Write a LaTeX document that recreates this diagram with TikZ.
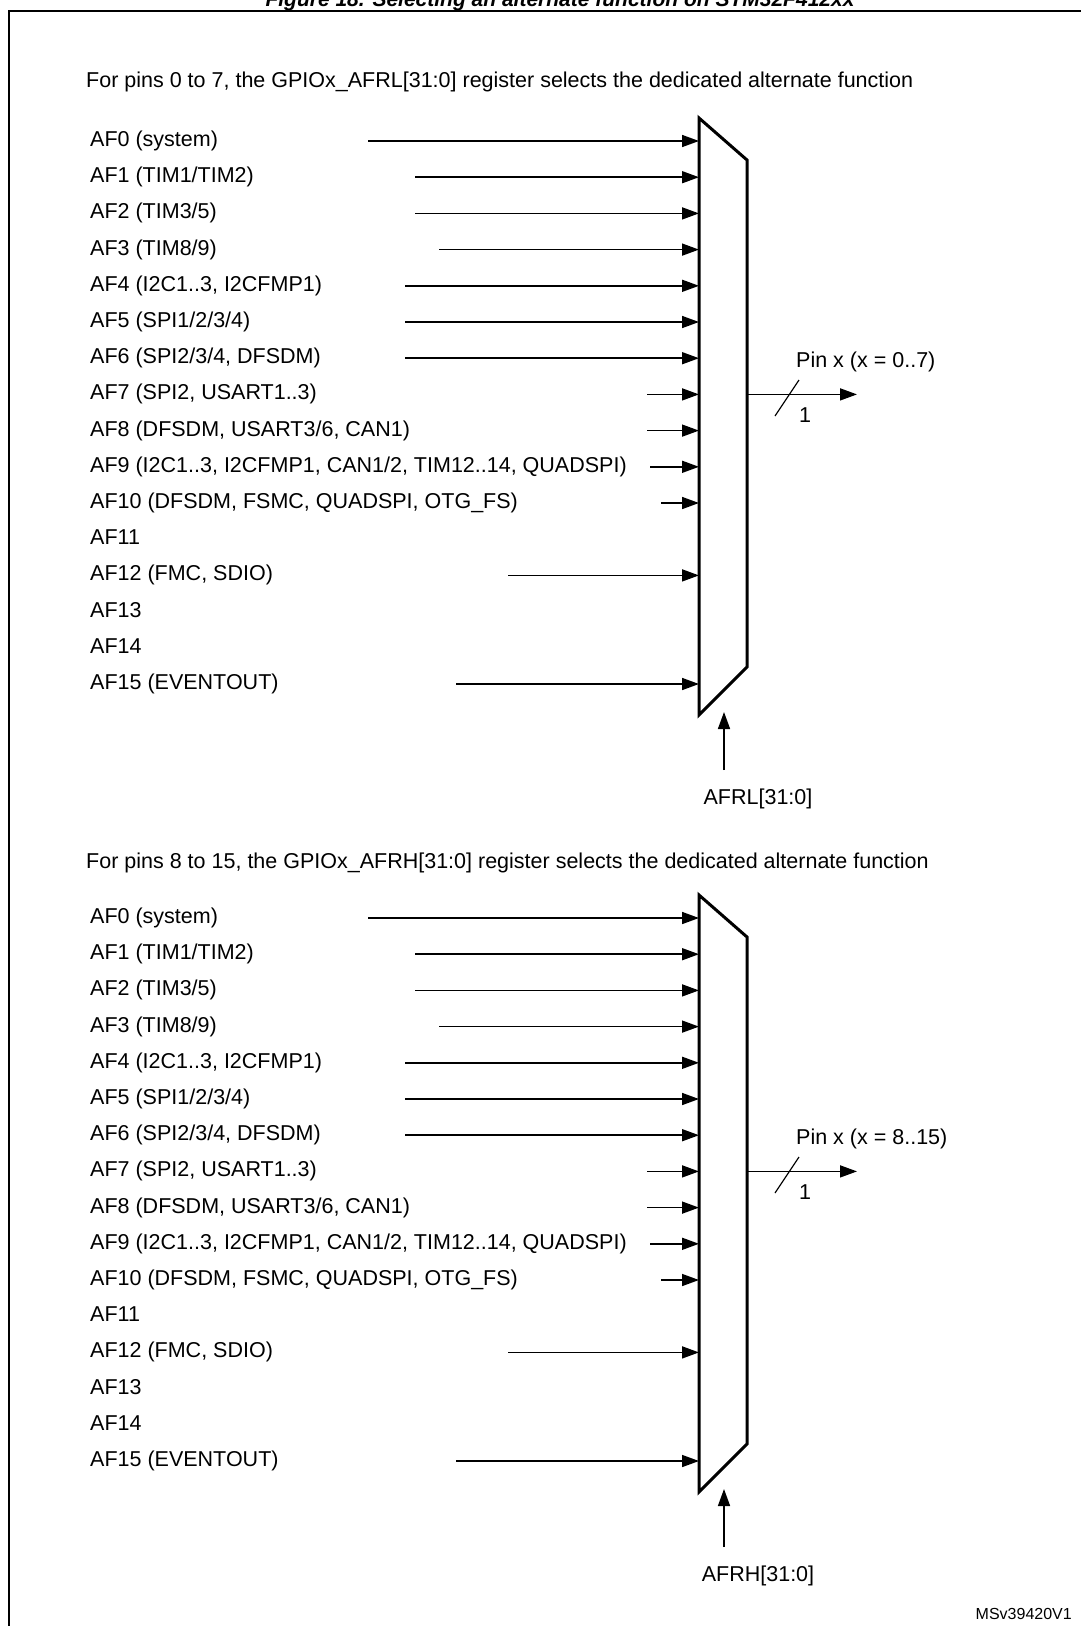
\documentclass[tikz,border=0pt]{standalone}
\usepackage{fontspec}
\setmainfont{Liberation Sans}
\usetikzlibrary{arrows.meta, positioning, calc}

\tikzset{
  lbl/.style={font=\fontsize{21.5}{26}\selectfont, inner sep=0pt, anchor=west, text height=15.4pt, text depth=4.4pt},
  sig/.style={line width=1.6pt, -{Triangle[length=17pt, width=12pt]}},
  muxbox/.style={line width=3pt, line join=miter},
}

\begin{document}
\begin{tikzpicture}[x=1pt, y=-1pt]
  \useasboundingbox (0,0) rectangle (1081,1626);
  \clip (0,0) rectangle (1081,1626);

  % Title (cut by the top edge)
  \node[font=\fontsize{21}{24}\selectfont\bfseries\itshape, inner sep=0pt, anchor=base] (title) at (560,6.5) {Figure 18. Selecting an alternate function on STM32F412xx};

  % Frame
  \draw[line width=2pt] (9,1640) -- (9,11) -- (1090,11);

  % ---------------- Pins 0 to 7 ----------------
  \node[lbl] (hdrl) at (86,82) {For pins 0 to 7, the GPIOx\_AFRL[31:0] register selects the dedicated alternate function};

  \node[lbl] (l0) at (90,141.0) {AF0 (system)};
  \node[lbl] (l1) at (90,177.2) {AF1 (TIM1/TIM2)};
  \node[lbl] (l2) at (90,213.4) {AF2 (TIM3/5)};
  \node[lbl] (l3) at (90,249.6) {AF3 (TIM8/9)};
  \node[lbl] (l4) at (90,285.8) {AF4 (I2C1..3, I2CFMP1)};
  \node[lbl] (l5) at (90,322.0) {AF5 (SPI1/2/3/4)};
  \node[lbl] (l6) at (90,358.2) {AF6 (SPI2/3/4, DFSDM)};
  \node[lbl] (l7) at (90,394.4) {AF7 (SPI2, USART1..3)};
  \node[lbl] (l8) at (90,430.6) {AF8 (DFSDM, USART3/6, CAN1)};
  \node[lbl] (l9) at (90,466.8) {AF9 (I2C1..3, I2CFMP1, CAN1/2, TIM12..14, QUADSPI)};
  \node[lbl] (l10) at (90,503.0) {AF10 (DFSDM, FSMC, QUADSPI, OTG\_FS)};
  \node[lbl] (l11) at (90,539.2) {AF11};
  \node[lbl] (l12) at (90,575.4) {AF12 (FMC, SDIO)};
  \node[lbl] (l13) at (90,611.6) {AF13};
  \node[lbl] (l14) at (90,647.8) {AF14};
  \node[lbl] (l15) at (90,684.0) {AF15 (EVENTOUT)};

  % Multiplexer
  \coordinate (muxl-nw) at (699,118);
  \coordinate (muxl-ne) at (747,160);
  \coordinate (muxl-se) at (747,667);
  \coordinate (muxl-sw) at (699,715);
  \draw[muxbox] (muxl-nw) -- (muxl-ne) -- (muxl-se) -- (muxl-sw) -- cycle;

  % Inputs
  \coordinate (sl0) at (368,141.0);
  \coordinate (sl1) at (415,177.2);
  \coordinate (sl2) at (415,213.4);
  \coordinate (sl3) at (439,249.6);
  \coordinate (sl4) at (405,285.8);
  \coordinate (sl5) at (405,322.0);
  \coordinate (sl6) at (405,358.2);
  \coordinate (sl7) at (647,394.4);
  \coordinate (sl8) at (647,430.6);
  \coordinate (sl9) at (650,466.8);
  \coordinate (sl10) at (661,503.0);
  \coordinate (sl12) at (508,575.4);
  \coordinate (sl15) at (456,684.0);
  \foreach \k in {0,1,2,3,4,5,6,7,8,9,10,12,15}
    \draw[sig] (sl\k) -- (sl\k -| muxl-nw);

  % Output
  \coordinate (outl) at (857,394.4);
  \draw[sig] (l7 -| muxl-ne) -- (outl);
  \draw[line width=1.2pt] (775,416) -- (799,380);
  \node[lbl] (pinl) at (796,362) {Pin x (x = 0..7)};
  \node[lbl, anchor=center] (wl) at (805,417) {1};

  % Select
  \coordinate (ctll) at (724,770);
  \draw[sig] (ctll) -- (724,712);
  \node[lbl, anchor=center] (afrl) at (758,799) {AFRL[31:0]};

  % ---------------- Pins 8 to 15 ----------------
  \node[lbl] (hdrh) at (86,863) {For pins 8 to 15, the GPIOx\_AFRH[31:0] register selects the dedicated alternate function};

  \node[lbl] (h0) at (90,918.0) {AF0 (system)};
  \node[lbl] (h1) at (90,954.2) {AF1 (TIM1/TIM2)};
  \node[lbl] (h2) at (90,990.4) {AF2 (TIM3/5)};
  \node[lbl] (h3) at (90,1026.6) {AF3 (TIM8/9)};
  \node[lbl] (h4) at (90,1062.8) {AF4 (I2C1..3, I2CFMP1)};
  \node[lbl] (h5) at (90,1099.0) {AF5 (SPI1/2/3/4)};
  \node[lbl] (h6) at (90,1135.2) {AF6 (SPI2/3/4, DFSDM)};
  \node[lbl] (h7) at (90,1171.4) {AF7 (SPI2, USART1..3)};
  \node[lbl] (h8) at (90,1207.6) {AF8 (DFSDM, USART3/6, CAN1)};
  \node[lbl] (h9) at (90,1243.8) {AF9 (I2C1..3, I2CFMP1, CAN1/2, TIM12..14, QUADSPI)};
  \node[lbl] (h10) at (90,1280.0) {AF10 (DFSDM, FSMC, QUADSPI, OTG\_FS)};
  \node[lbl] (h11) at (90,1316.2) {AF11};
  \node[lbl] (h12) at (90,1352.4) {AF12 (FMC, SDIO)};
  \node[lbl] (h13) at (90,1388.6) {AF13};
  \node[lbl] (h14) at (90,1424.8) {AF14};
  \node[lbl] (h15) at (90,1461.0) {AF15 (EVENTOUT)};

  % Multiplexer
  \coordinate (muxh-nw) at (699,895);
  \coordinate (muxh-ne) at (747,937);
  \coordinate (muxh-se) at (747,1444);
  \coordinate (muxh-sw) at (699,1492);
  \draw[muxbox] (muxh-nw) -- (muxh-ne) -- (muxh-se) -- (muxh-sw) -- cycle;

  % Inputs
  \coordinate (sh0) at (368,918.0);
  \coordinate (sh1) at (415,954.2);
  \coordinate (sh2) at (415,990.4);
  \coordinate (sh3) at (439,1026.6);
  \coordinate (sh4) at (405,1062.8);
  \coordinate (sh5) at (405,1099.0);
  \coordinate (sh6) at (405,1135.2);
  \coordinate (sh7) at (647,1171.4);
  \coordinate (sh8) at (647,1207.6);
  \coordinate (sh9) at (650,1243.8);
  \coordinate (sh10) at (661,1280.0);
  \coordinate (sh12) at (508,1352.4);
  \coordinate (sh15) at (456,1461.0);
  \foreach \k in {0,1,2,3,4,5,6,7,8,9,10,12,15}
    \draw[sig] (sh\k) -- (sh\k -| muxh-nw);

  % Output
  \coordinate (outh) at (857,1171.4);
  \draw[sig] (h7 -| muxh-ne) -- (outh);
  \draw[line width=1.2pt] (775,1193) -- (799,1157);
  \node[lbl] (pinh) at (796,1139) {Pin x (x = 8..15)};
  \node[lbl, anchor=center] (wh) at (805,1194) {1};

  % Select
  \coordinate (ctlh) at (724,1547);
  \draw[sig] (ctlh) -- (724,1489);
  \node[lbl, anchor=center] (afrh) at (758,1576) {AFRH[31:0]};

  % Figure reference
  \node[font=\fontsize{16}{19}\selectfont, inner sep=0pt, anchor=base east] (ref) at (1072,1619) {MSv39420V1};
\end{tikzpicture}
\end{document}
